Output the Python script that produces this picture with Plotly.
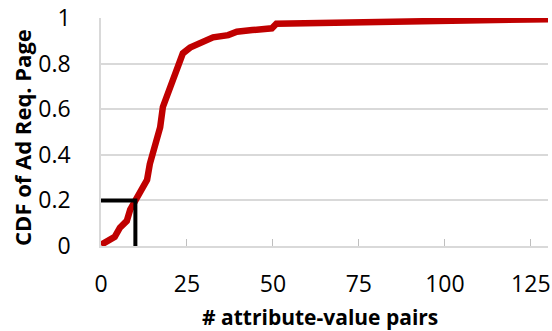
import plotly.graph_objects as go

# CDF curve data
x_vals = [0, 4, 5.5, 7.5, 8.5, 10, 12, 13.4, 14.2, 15.7, 17.2, 18, 19.2, 21, 22.4, 23.8,
          25.9, 29.4, 32.6, 37, 39.5, 44, 48.5, 49.7, 51, 75, 100, 130]
cdf_vals = [0.005, 0.04, 0.08, 0.11, 0.16, 0.2, 0.24, 0.29, 0.36, 0.43, 0.52, 0.61, 0.66,
            0.73, 0.785, 0.845, 0.87, 0.89, 0.915, 0.925, 0.94, 0.947, 0.95, 0.955, 0.975,
            0.98, 0.986, 0.995]

# Reference marker at (10, 0.2)
marker_x = [0, 10, 10]
marker_y = [0.2, 0.2, 0]

x_ticks = [0, 25, 50, 75, 100, 125]
y_ticks = [0, 0.2, 0.4, 0.6, 0.8, 1]
y_tick_labels = ["0", "0.2", "0.4", "0.6", "0.8", "1"]

FONT = "Open Sans"

fig = go.Figure()
fig.add_trace(go.Scatter(x=x_vals, y=cdf_vals, mode="lines",
                         line=dict(color="#C00000", width=6.5), showlegend=False))
fig.add_trace(go.Scatter(x=marker_x, y=marker_y, mode="lines",
                         line=dict(color="#000000", width=4), showlegend=False))

fig.update_layout(
    width=552, height=331,
    margin=dict(l=101, r=4, t=18, b=85),
    plot_bgcolor="white", paper_bgcolor="white",
    font=dict(family=FONT, size=23, color="#000000"),
    xaxis=dict(range=[0, 130], tickvals=x_ticks, showgrid=False, zeroline=False,
               showline=True, linecolor="#d9d9d9", linewidth=1.5,
               ticks="inside", ticklen=7, tickcolor="#bfbfbf", tickwidth=1.2,
               ticklabelstandoff=17, automargin=False, layer="below traces"),
    yaxis=dict(range=[0, 1], tickvals=y_ticks, ticktext=y_tick_labels,
               showgrid=True, gridcolor="#d9d9d9", gridwidth=1.5, zeroline=False,
               showline=True, linecolor="#d9d9d9", linewidth=1.5,
               ticklabelstandoff=24, automargin=False),
    annotations=[
        dict(text="<b># attribute-value pairs</b>", xref="paper", yref="paper",
             x=0.49, y=-0.31, xanchor="center", yanchor="middle", showarrow=False,
             font=dict(size=21)),
        dict(text="<b>CDF of Ad Req. Page</b>", xref="paper", yref="paper",
             x=-0.177, y=0.478, xanchor="center", yanchor="middle", showarrow=False,
             textangle=-90, font=dict(size=22)),
    ],
)

fig.write_html("out.html", config={"displayModeBar": False},
               post_script="document.body.style.margin='0';document.body.style.overflow='hidden';")
